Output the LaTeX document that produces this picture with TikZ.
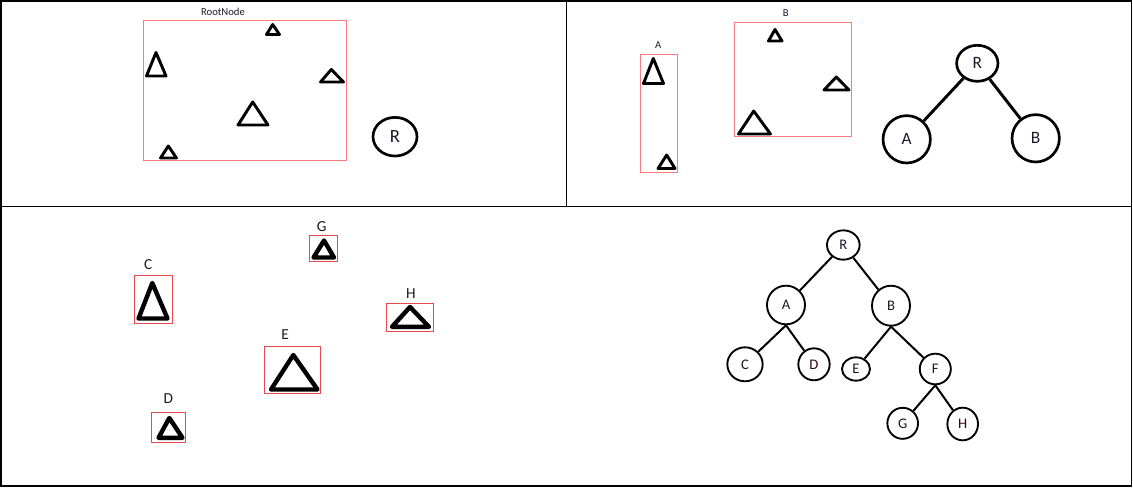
\documentclass[tikz,border=0pt]{standalone}
\usepackage{fontspec}
\setmainfont{Carlito}
\usetikzlibrary{shapes.geometric}
\definecolor{ColorBox}{HTML}{F47C7C}
\definecolor{ColorBoxDark}{HTML}{E8484E}
\definecolor{ColorInk}{HTML}{1A1A2A}

\tikzset{
  tri/.style={line width=2.2pt, line join=round},
  trithick/.style={line width=3.3pt, line join=round},
  nodeel/.style={draw, ellipse, inner sep=0pt, line width=2pt, text=ColorInk},
  smallel/.style={draw, ellipse, inner sep=0pt, line width=1.4pt, font=\fontsize{11}{12}\selectfont, text=ColorInk},
  edge/.style={line width=2.2pt},
  smalledge/.style={line width=1.5pt}
}

\begin{document}
\begin{tikzpicture}[x=0.75pt, y=-0.75pt]
        \useasboundingbox (0,0) rectangle (1133,487);
        % panels
        \draw[line width=1.1pt] (0.8,0.8) rectangle (1131.7,486.2);
        \draw[line width=1.1pt] (0.8,206.5) -- (1131.7,206.5);
        \draw[line width=1.1pt] (566.5,0.8) -- (566.5,206.5);

        % top left: the root region
        \draw[ColorBox, line width=0.9pt] (143.5,20.5) rectangle (346.5,160.2);
        \node[font=\fontsize{8}{9}\selectfont, text=ColorInk] (lblroot) at (223,12) {RootNode};
        \draw[tri] (272.7,24.5) -- (266.5,34.5) -- (279.5,34.5) -- cycle;
        \draw[tri] (156,52.5) -- (146.5,76) -- (166,76) -- cycle;
        \draw[tri] (331.3,69.5) -- (320.5,82) -- (343.5,82) -- cycle;
        \draw[tri] (252.7,102) -- (238,125) -- (268,125) -- cycle;
        \draw[tri] (168.3,146) -- (160.5,158) -- (176.5,158) -- cycle;
        \node[nodeel, minimum width=33pt, minimum height=29pt, font=\fontsize{14}{16}\selectfont] (root) at (395,136.7) {R};

        % top right: split into A and B
        \node[font=\fontsize{8}{9}\selectfont, text=ColorInk] (lbla) at (658.3,45) {A};
        \draw[ColorBox, line width=0.9pt] (640.7,54.5) rectangle (677.3,172.3);
        \draw[tri] (653.3,58.5) -- (643.5,83.5) -- (663.5,83.5) -- cycle;
        \draw[tri] (666.7,155) -- (658,168.5) -- (675,168.5) -- cycle;
        \node[font=\fontsize{8}{9}\selectfont, text=ColorInk] (lblb) at (785.7,13.3) {B};
        \draw[ColorBox, line width=0.9pt] (734.3,22.7) rectangle (851.3,136.7);
        \draw[tri] (775,29.5) -- (768.5,41) -- (782,41) -- cycle;
        \draw[tri] (836.3,77) -- (824,90) -- (849,90) -- cycle;
        \draw[tri] (753.7,111) -- (738.5,134) -- (770.5,134) -- cycle;
        \node[nodeel, minimum width=31pt, minimum height=27pt, font=\fontsize{13}{15}\selectfont] (tr) at (977.3,63.3) {R};
        \node[nodeel, minimum size=35.5pt, font=\fontsize{13}{15}\selectfont] (ta) at (906.7,139.3) {A};
        \node[nodeel, minimum size=35.5pt, font=\fontsize{13}{15}\selectfont] (tb) at (1035.7,138.3) {B};
        \draw[edge] (tr) -- (ta);
        \draw[edge] (tr) -- (tb);

        % bottom left: leaf regions
        \node[font=\fontsize{11.5}{13}\selectfont, text=ColorInk] (lblg) at (321.7,226.7) {G};
        \draw[ColorBoxDark, line width=0.9pt] (309.3,235.7) rectangle (337.3,261.3);
        \draw[trithick] (324,240.5) -- (313.5,257.5) -- (334,257.5) -- cycle;
        \node[font=\fontsize{11.5}{13}\selectfont, text=ColorInk] (lblc) at (148.3,264.3) {C};
        \draw[ColorBoxDark, line width=0.9pt] (134.3,275.3) rectangle (172.7,323.3);
        \draw[trithick] (152.3,283) -- (138.5,318.5) -- (167.5,318.5) -- cycle;
        \node[font=\fontsize{11.5}{13}\selectfont, text=ColorInk] (lblh) at (411,293.3) {H};
        \draw[ColorBoxDark, line width=0.9pt] (386.3,303.3) rectangle (433.7,331.3);
        \draw[trithick] (410,307) -- (392,326.8) -- (429,326.8) -- cycle;
        \node[font=\fontsize{11.5}{13}\selectfont, text=ColorInk] (lble) at (285,335) {E};
        \draw[ColorBoxDark, line width=0.9pt] (264.7,346.3) rectangle (320.3,393.3);
        \draw[trithick] (293.3,355) -- (271,389.5) -- (317.5,389.5) -- cycle;
        \node[font=\fontsize{11.5}{13}\selectfont, text=ColorInk] (lbld) at (168.3,399) {D};
        \draw[ColorBoxDark, line width=0.9pt] (151.7,412.3) rectangle (185.3,442.7);
        \draw[trithick] (169.3,418) -- (158.5,437.8) -- (182.5,437.8) -- cycle;

        % bottom right: the whole tree
        \node[smallel, minimum width=24.5pt, minimum height=22pt] (r) at (843.3,245) {R};
        \node[smallel, minimum width=28.5pt, minimum height=29pt] (a) at (786,305) {A};
        \node[smallel, minimum width=28.5pt, minimum height=30pt] (b) at (891,305.7) {B};
        \node[smallel, minimum width=26.5pt, minimum height=25.5pt] (c) at (745,364.3) {C};
        \node[smallel, minimum width=23.5pt, minimum height=24pt, text=ColorInk!60!red!40!black] (d) at (814,364.3) {D};
        \node[smallel, minimum width=21pt, minimum height=17.5pt] (e) at (856,369) {E};
        \node[smallel, minimum width=23.3pt, minimum height=23pt] (f) at (935.3,369) {F};
        \node[smallel, minimum width=23pt, minimum height=23.3pt] (g) at (902.7,423.3) {G};
        \node[smallel, minimum width=23pt, minimum height=24.5pt, text=ColorInk!60!red!40!black] (h) at (962.7,424) {H};
        \draw[smalledge] (r) -- (a);
        \draw[smalledge] (r) -- (b);
        \draw[smalledge] (a.south) -- (c);
        \draw[smalledge] (a.south) -- (d);
        \draw[smalledge] (b.south) -- (e);
        \draw[smalledge] (b.south) -- (f);
        \draw[smalledge] (f.south) -- (g);
        \draw[smalledge] (f.south) -- (h);
    \end{tikzpicture}
\end{document}
